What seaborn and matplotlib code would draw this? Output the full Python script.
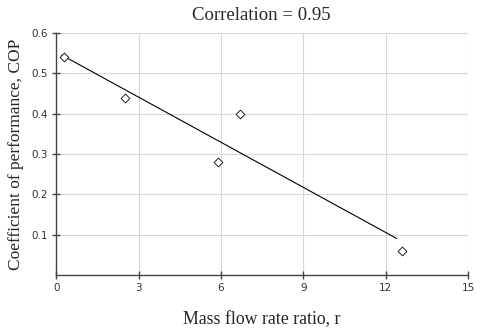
import numpy as np
import pandas as pd
import matplotlib
matplotlib.use("Agg")
import matplotlib.pyplot as plt
import seaborn as sns

# Data
mass_flow_ratio = [0.3, 2.5, 5.9, 6.7, 12.6]
cop = [0.54, 0.44, 0.28, 0.40, 0.06]
fit_range = [0.2, 12.4]
x_ticks = [0, 3, 6, 9, 12, 15]
y_ticks = [0.1, 0.2, 0.3, 0.4, 0.5, 0.6]
title = "Correlation = 0.95"
xlabel = "Mass flow rate ratio, r"
ylabel = "Coefficient of performance, COP"

sns.set_style("white")
df = pd.DataFrame({"r": mass_flow_ratio, "cop": cop})
slope, intercept = np.polyfit(mass_flow_ratio, cop, 1)
fit_df = pd.DataFrame({"r": fit_range, "cop": [slope * v + intercept for v in fit_range]})

fig = plt.figure(figsize=(4.8, 3.3), dpi=100)
ax = fig.add_axes([0.117, 0.167, 0.858, 0.733])

sns.lineplot(data=fit_df, x="r", y="cop", ax=ax, color="black", linewidth=0.8)
sns.scatterplot(data=df, x="r", y="cop", ax=ax, marker="D", s=20,
                facecolor="white", edgecolor="black", linewidth=0.6, zorder=3)

ax.set_xlim(0, 15)
ax.set_ylim(0, 0.6)
ax.set_xticks(x_ticks)
ax.set_yticks(y_ticks)
ax.set_xticklabels([str(t) for t in x_ticks])
ax.set_yticklabels([f"{t:.1f}" for t in y_ticks])
ax.grid(True, color="#d8d8d8", linewidth=0.8)
ax.set_axisbelow(True)

for s in ["top", "right"]:
    ax.spines[s].set_visible(False)
for s in ["left", "bottom"]:
    ax.spines[s].set_color("#444444")
    ax.spines[s].set_linewidth(1.0)
ax.tick_params(axis="both", direction="inout", length=6, width=1.0, color="#444444",
               labelsize=7.5, labelcolor="#333333", pad=3, bottom=True, left=True)
for lab in ax.get_xticklabels() + ax.get_yticklabels():
    lab.set_family("DejaVu Sans")

ax.set_xlabel(xlabel, family="Liberation Serif", fontsize=12.8, labelpad=13)
ax.set_ylabel(ylabel, family="Liberation Serif", fontsize=12.5, labelpad=5)
fig.text(0.545, 0.953, title, family="Liberation Serif", fontsize=13.5, ha="center", va="center")

fig.savefig("out.png", dpi=100)
